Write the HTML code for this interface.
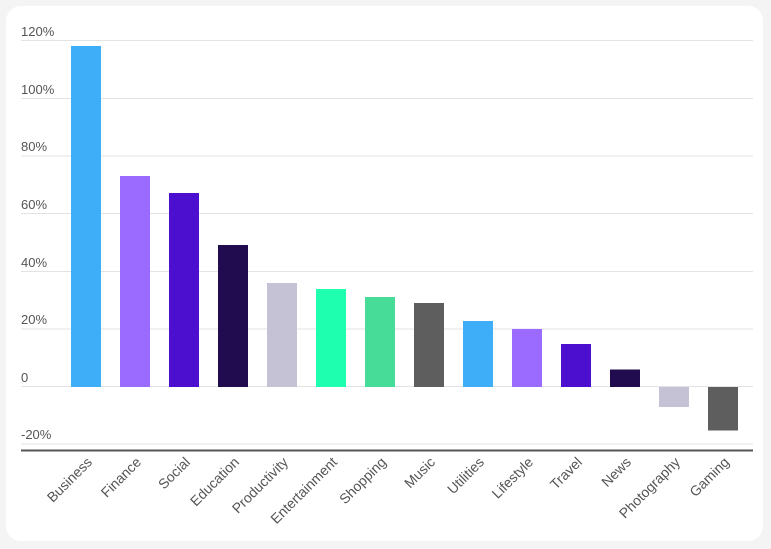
<!DOCTYPE html>
<html><head><style>
html,body{margin:0;padding:0;background:#f4f4f5;}
.card{position:absolute;left:6px;top:6px;width:757px;height:535px;background:#fff;border-radius:15px;}
svg{position:absolute;left:0;top:0;}
text{font-family:"Liberation Sans",sans-serif;font-size:13px;fill:#555;}
.xl text{font-size:14px;}
</style></head><body>
<div class="card"></div>
<svg width="771" height="549" xmlns="http://www.w3.org/2000/svg">
<g stroke="#e3e3e3" stroke-width="1">
<line x1="21" x2="753" y1="40.5" y2="40.5"/>
<line x1="21" x2="753" y1="98.5" y2="98.5"/>
<line x1="21" x2="753" y1="156" y2="156"/>
<line x1="21" x2="753" y1="213.5" y2="213.5"/>
<line x1="21" x2="753" y1="271.5" y2="271.5"/>
<line x1="21" x2="753" y1="329" y2="329"/>
<line x1="21" x2="753" y1="386.5" y2="386.5"/>
<line x1="21" x2="753" y1="444" y2="444"/>
</g>
<line x1="21" x2="753" y1="450.5" y2="450.5" stroke="#555" stroke-width="2"/>
<g>
<text x="21" y="36">120%</text>
<text x="21" y="94">100%</text>
<text x="21" y="151">80%</text>
<text x="21" y="209">60%</text>
<text x="21" y="267">40%</text>
<text x="21" y="324">20%</text>
<text x="21" y="382">0</text>
<text x="21" y="439">-20%</text>
</g>
<g>
<rect x="71" y="46" width="30" height="341" fill="#3daef7"/>
<rect x="120" y="176" width="30" height="211" fill="#9b6bff"/>
<rect x="169" y="193" width="30" height="194" fill="#4c0fd0"/>
<rect x="218" y="245" width="30" height="142" fill="#200c4e"/>
<rect x="267" y="283" width="30" height="104" fill="#c5c2d6"/>
<rect x="316" y="289" width="30" height="98" fill="#1effb0"/>
<rect x="365" y="297" width="30" height="90" fill="#47dd98"/>
<rect x="414" y="303" width="30" height="84" fill="#5e5e5e"/>
<rect x="463" y="321" width="30" height="66" fill="#3daef7"/>
<rect x="512" y="329" width="30" height="58" fill="#9b6bff"/>
<rect x="561" y="344" width="30" height="43" fill="#4c0fd0"/>
<rect x="610" y="369.5" width="30" height="17.5" fill="#200c4e"/>
<rect x="659" y="387" width="30" height="20" fill="#c5c2d6"/>
<rect x="708" y="387" width="30" height="43.5" fill="#5e5e5e"/>
</g>
<g text-anchor="end" class="xl">
<text transform="translate(93,463) rotate(-45)">Business</text>
<text transform="translate(142,463) rotate(-45)">Finance</text>
<text transform="translate(191,463) rotate(-45)">Social</text>
<text transform="translate(240,463) rotate(-45)">Education</text>
<text transform="translate(289,463) rotate(-45)">Productivity</text>
<text transform="translate(338,463) rotate(-45)">Entertainment</text>
<text transform="translate(387,463) rotate(-45)">Shopping</text>
<text transform="translate(436,463) rotate(-45)">Music</text>
<text transform="translate(485,463) rotate(-45)">Utilities</text>
<text transform="translate(534,463) rotate(-45)">Lifestyle</text>
<text transform="translate(583,463) rotate(-45)">Travel</text>
<text transform="translate(632,463) rotate(-45)">News</text>
<text transform="translate(681,463) rotate(-45)">Photography</text>
<text transform="translate(730,463) rotate(-45)">Gaming</text>
</g>
</svg>
</body></html>
